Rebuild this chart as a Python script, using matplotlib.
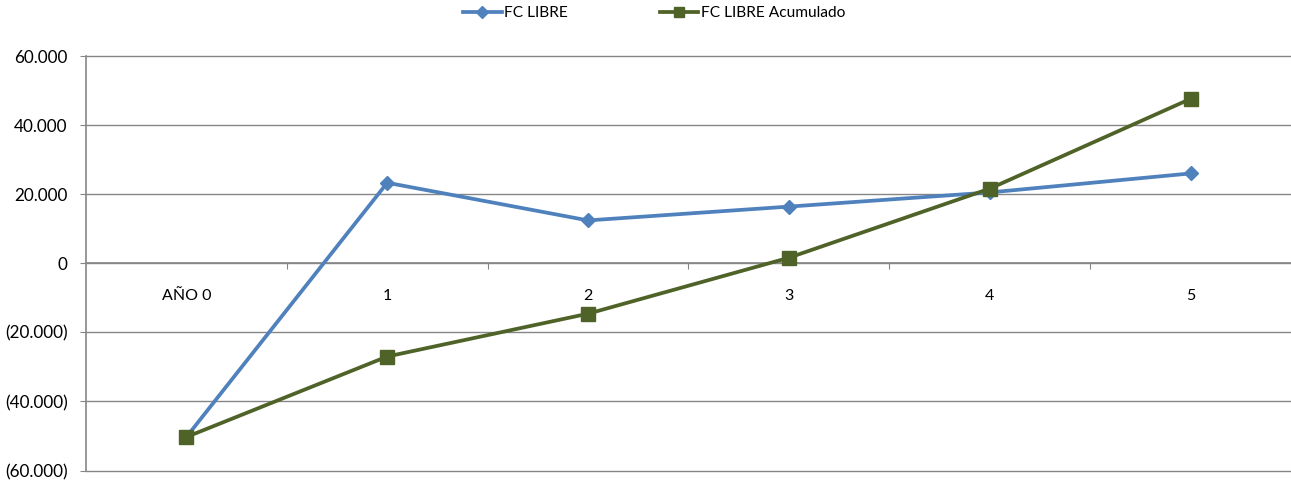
import matplotlib
matplotlib.use("Agg")
import matplotlib.pyplot as plt
from matplotlib.ticker import FuncFormatter, FixedLocator
from matplotlib.lines import Line2D

categories = ["AÑO 0", "1", "2", "3", "4", "5"]
fc_libre = [-50300, 23300, 12400, 16400, 20500, 26000]
fc_acumulado = [-50300, -27000, -14600, 1600, 21600, 47600]
series_names = ["FC LIBRE", "FC LIBRE Acumulado"]

plt.rcParams["font.family"] = ["Lato", "DejaVu Sans"]
grid_color = "#868686"
blue = "#4F81BD"
green = "#4F6228"

fig = plt.figure(figsize=(12.91, 4.83), dpi=100)
ax = fig.add_axes([86 / 1291, 1 - 470.5 / 483, 1 - 86 / 1291, (470.5 - 56) / 483])

x = list(range(len(categories)))
ax.plot(x, fc_libre, color=blue, lw=2.7, marker="D", ms=7.5, zorder=3)
ax.plot(x, fc_acumulado, color=green, lw=2.7, marker="s", ms=10, zorder=4)

ax.set_xlim(-0.5, len(categories) - 0.5)
ax.set_ylim(-60000, 60000)
ax.set_yticks(range(-60000, 60001, 20000))


def fmt(v, pos):
    if v == 0:
        return "0"
    s = f"{abs(v):,.0f}".replace(",", ".")
    return f"({s})" if v < 0 else s


ax.yaxis.set_major_formatter(FuncFormatter(fmt))
ax.grid(axis="y", color=grid_color, lw=1)
for gl in ax.get_ygridlines():
    gl.set_clip_on(False)
ax.set_axisbelow(True)

for side in ["top", "right"]:
    ax.spines[side].set_visible(False)
ax.spines["left"].set_color(grid_color)
ax.spines["left"].set_linewidth(1.2)
ax.spines["bottom"].set_position(("data", 0))
ax.spines["bottom"].set_color(grid_color)
ax.spines["bottom"].set_linewidth(1.2)

# tick marks sit between categories; labels centred on categories
ax.xaxis.set_major_locator(FixedLocator([i + 0.5 for i in x[:-1]]))
ax.xaxis.set_major_formatter(FuncFormatter(lambda v, p: ""))
ax.xaxis.set_minor_locator(FixedLocator(x))
ax.set_xticklabels(categories, minor=True)
ax.tick_params(axis="x", which="major", length=4, color=grid_color, direction="out")
ax.tick_params(axis="x", which="minor", length=0, pad=18.5, labelsize=11.5)
ax.tick_params(axis="y", length=4.3, color=grid_color, labelsize=12.3, pad=9)

handles = [
    Line2D([], [], color=blue, lw=2.7, marker="D", ms=6),
    Line2D([], [], color=green, lw=2.7, marker="s", ms=7.5),
]
fig.legend(handles, series_names, loc="center", ncol=2, frameon=False,
           fontsize=11.2, columnspacing=5.9, handlelength=2.5, handletextpad=0.15,
           bbox_to_anchor=(0.5066, 1 - 13 / 483), bbox_transform=fig.transFigure)

fig.savefig("out.png", dpi=100)
